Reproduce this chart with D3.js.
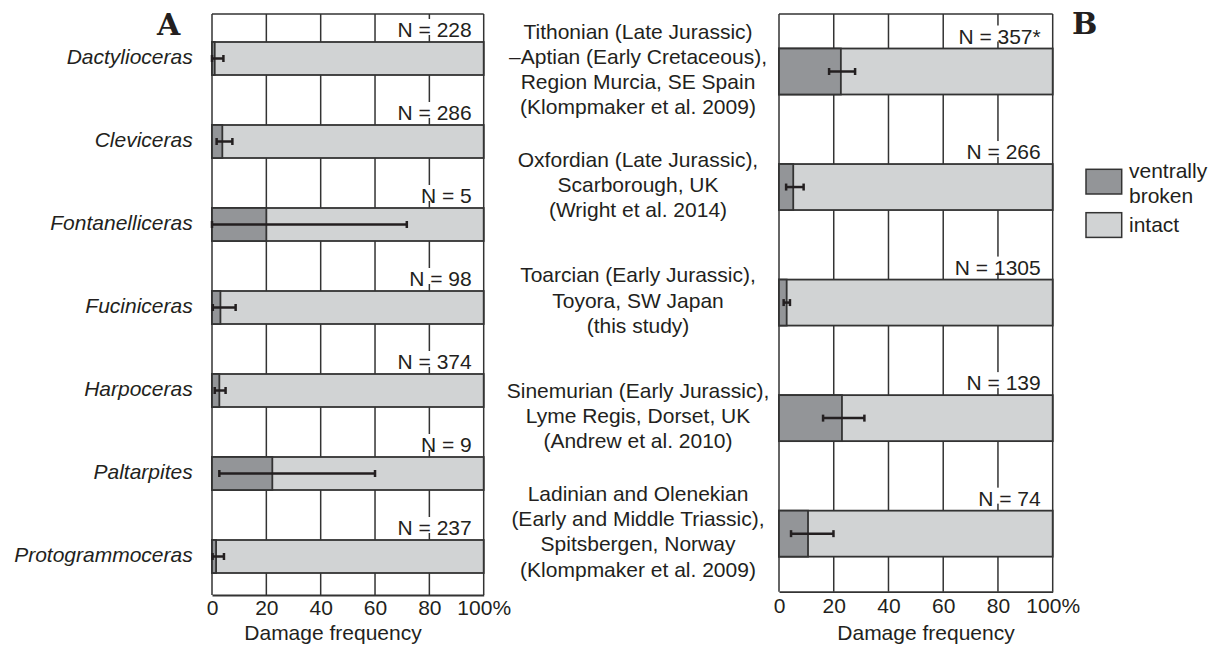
<!DOCTYPE html>
<html>
<head>
<meta charset="utf-8">
<script src="https://cdn.jsdelivr.net/npm/d3@7"></script>
<style>
  body { margin: 0; background: #fff; }
  text { font-family: "Liberation Sans", Arial, sans-serif; fill: #231f20; }
</style>
</head>
<body>
<div id="chart"></div>
<script>
// Panel A - genera
var genera = ["Dactylioceras", "Cleviceras", "Fontanelliceras", "Fuciniceras", "Harpoceras", "Paltarpites", "Protogrammoceras"];
var generaN = ["228", "286", "5", "98", "374", "9", "237"];
var generaBroken = [1.0, 3.8, 20, 3.1, 2.7, 22.2, 1.5];
var generaLow = [0, 1.7, 0, 0.3, 1.0, 2.7, 0.2];
var generaHigh = [4.2, 7.5, 71.7, 8.7, 5.0, 60, 4.4];

// Panel B - localities
var sites = [
    ["Tithonian (Late Jurassic)", "\u2013Aptian (Early Cretaceous),", "Region Murcia, SE Spain", "(Klompmaker et al. 2009)"],
    ["Oxfordian (Late Jurassic),", "Scarborough, UK", "(Wright et al. 2014)"],
    ["Toarcian (Early Jurassic),", "Toyora, SW Japan", "(this study)"],
    ["Sinemurian (Early Jurassic),", "Lyme Regis, Dorset, UK", "(Andrew et al. 2010)"],
    ["Ladinian and Olenekian", "(Early and Middle Triassic),", "Spitsbergen, Norway", "(Klompmaker et al. 2009)"]
];
var siteN = ["357*", "266", "1305", "139", "74"];
var siteBroken = [22.6, 5.2, 2.8, 23.0, 10.6];
var siteLow = [18.3, 2.6, 1.7, 16.1, 4.4];
var siteHigh = [27.8, 9.0, 4.0, 31.2, 19.9];

var ticks = [0, 20, 40, 60, 80, 100];
var legendLabels = [["ventrally", "broken"], ["intact"]];

var DARK = "#939598", LIGHT = "#d1d3d4", INK = "#231f20";
var FS = "21px";

var svg = d3.select("#chart").append("svg")
    .attr("width", 1214).attr("height", 648);

function drawPanel(opt) {
    var x = d3.scaleLinear().domain([0, 100]).range(opt.xr);
    var y = d3.scaleBand().domain(d3.range(opt.n)).range(opt.yr);
    var g = svg.append("g");

    // grid + frame
    g.selectAll("line.grid").data(ticks).enter().append("line")
        .attr("x1", function (d) { return x(d); })
        .attr("x2", function (d) { return x(d); })
        .attr("y1", opt.yr[0]).attr("y2", opt.yr[1])
        .attr("stroke", "#333").attr("stroke-width", 1.5);
    g.append("line")
        .attr("x1", x(0)).attr("x2", x(100))
        .attr("y1", opt.yr[0]).attr("y2", opt.yr[0])
        .attr("stroke", "#333").attr("stroke-width", 1.5);

    // N labels with white box that breaks the grid line
    var nl = g.selectAll("g.nlab").data(opt.N).enter().append("g");
    nl.append("text")
        .attr("x", x(100) - 12)
        .attr("y", function (d, i) { return y(i) + opt.off - 5; })
        .attr("text-anchor", "end")
        .style("font-size", FS)
        .text(function (d) { return "N = " + d; })
        .each(function () {
            var b = this.getBBox();
            d3.select(this.parentNode).insert("rect", "text")
                .attr("x", b.x - 2).attr("y", b.y + 1)
                .attr("width", b.width + 4).attr("height", b.height - 7)
                .attr("fill", "#fff");
        });

    // bars
    var bars = g.selectAll("g.bar").data(opt.broken).enter().append("g");
    bars.append("rect")
        .attr("x", x(0)).attr("width", x(100) - x(0))
        .attr("y", function (d, i) { return y(i) + opt.off; })
        .attr("height", opt.bh)
        .attr("fill", LIGHT).attr("stroke", "#333").attr("stroke-width", 1.8);
    bars.append("rect")
        .attr("x", x(0)).attr("width", function (d) { return x(d) - x(0); })
        .attr("y", function (d, i) { return y(i) + opt.off; })
        .attr("height", opt.bh)
        .attr("fill", DARK).attr("stroke", "#333").attr("stroke-width", 1.8);

    // error bars
    var eb = g.selectAll("g.err").data(opt.low).enter().append("g")
        .attr("stroke", INK).attr("stroke-width", 2.5);
    eb.append("line")
        .attr("x1", function (d) { return x(d); })
        .attr("x2", function (d, i) { return x(opt.high[i]); })
        .attr("y1", function (d, i) { return y(i) + opt.off + opt.bh / 2; })
        .attr("y2", function (d, i) { return y(i) + opt.off + opt.bh / 2; });
    eb.append("line")
        .attr("x1", function (d) { return x(d); })
        .attr("x2", function (d) { return x(d); })
        .attr("y1", function (d, i) { return y(i) + opt.off + opt.bh / 2 - 3.5; })
        .attr("y2", function (d, i) { return y(i) + opt.off + opt.bh / 2 + 3.5; });
    eb.append("line")
        .attr("x1", function (d, i) { return x(opt.high[i]); })
        .attr("x2", function (d, i) { return x(opt.high[i]); })
        .attr("y1", function (d, i) { return y(i) + opt.off + opt.bh / 2 - 3.5; })
        .attr("y2", function (d, i) { return y(i) + opt.off + opt.bh / 2 + 3.5; });

    // x axis
    var ax = g.append("g")
        .attr("transform", "translate(0," + opt.yr[1] + ")")
        .call(d3.axisBottom(x).tickValues(ticks).tickSize(0).tickPadding(0)
            .tickFormat(function (d) { return d == 100 ? "100%" : d; }));
    ax.select(".domain").attr("stroke", "#333").attr("stroke-width", 1.8);
    ax.selectAll("text")
        .attr("y", opt.tickY - opt.yr[1]).attr("dy", null)
        .attr("fill", INK)
        .style("font-size", FS)
        .style("font-family", "'Liberation Sans', Arial, sans-serif");

    g.append("text")
        .attr("x", opt.titleX).attr("y", 640)
        .attr("text-anchor", "middle")
        .style("font-size", FS)
        .text("Damage frequency");

    return { x: x, y: y };
}

var A = drawPanel({
    n: genera.length, N: generaN, broken: generaBroken, low: generaLow, high: generaHigh,
    xr: [212, 483.7], yr: [14, 595], off: 28, bh: 33, tickY: 615, titleX: 333
});

svg.selectAll("text.genus").data(genera).enter().append("text")
    .attr("x", 192.7)
    .attr("y", function (d, i) { return A.y(i) + 28 + 16.5 + 5; })
    .attr("text-anchor", "end")
    .style("font-size", FS)
    .style("font-style", "italic")
    .text(function (d) { return d; });

var B = drawPanel({
    n: sites.length, N: siteN, broken: siteBroken, low: siteLow, high: siteHigh,
    xr: [779, 1052.7], yr: [14, 591.7], off: 34.5, bh: 46, tickY: 612.7, titleX: 926
});

sites.forEach(function (lines, i) {
    var cy = B.y(i) + 34.5 + 23;
    svg.append("text")
        .attr("x", 638)
        .attr("text-anchor", "middle")
        .style("font-size", FS)
        .selectAll("tspan").data(lines).enter().append("tspan")
        .attr("x", 638)
        .attr("y", function (d, j) { return cy + (j - (lines.length - 1) / 2) * 25.3 + 5; })
        .text(function (d) { return d; });
});

// panel letters
svg.append("text").attr("x", 157).attr("y", 35)
    .style("font-family", "'DejaVu Serif', serif").style("font-weight", "bold")
    .style("font-size", "30px").text("A");
svg.append("text").attr("x", 1072).attr("y", 34)
    .style("font-family", "'DejaVu Serif', serif").style("font-weight", "bold")
    .style("font-size", "30px").text("B");

// legend
var lg = svg.append("g");
[DARK, LIGHT].forEach(function (c, i) {
    lg.append("rect")
        .attr("x", 1086).attr("y", i == 0 ? 169.3 : 212.7)
        .attr("width", 35.7).attr("height", 24.7)
        .attr("fill", c).attr("stroke", "#333").attr("stroke-width", 1.5);
});
var legendY = [[178, 202.7], [231.7]];
legendLabels.forEach(function (ls, i) {
    ls.forEach(function (t, j) {
        lg.append("text").attr("x", 1129).attr("y", legendY[i][j])
            .style("font-size", FS).text(t);
    });
});
</script>
</body>
</html>
